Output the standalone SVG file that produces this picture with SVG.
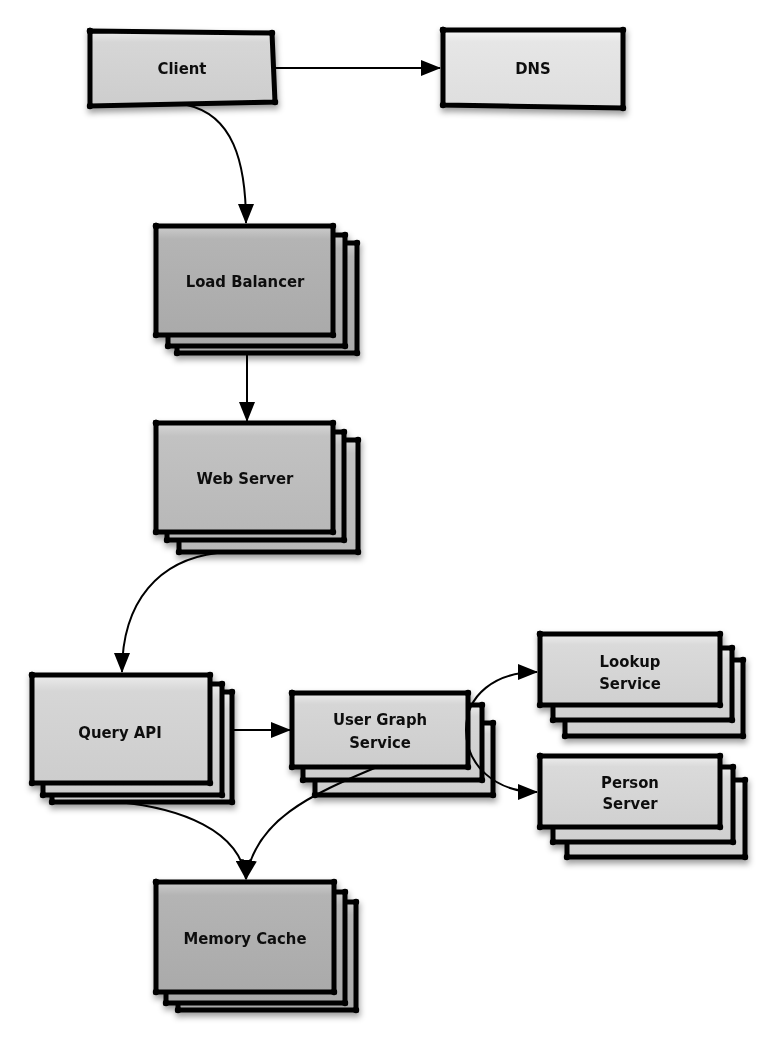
<svg xmlns="http://www.w3.org/2000/svg" width="774" height="1042" viewBox="0 0 774 1042">
<style>
.bx{stroke:#000;stroke-width:5;stroke-linejoin:miter;marker-start:url(#dot);marker-mid:url(#dot);marker-end:url(#dot)}
.lbl{font-family:"Liberation Sans Narrow","DejaVu Sans Condensed","Liberation Sans",sans-serif;font-weight:bold;font-size:16.5px;fill:#111;text-anchor:middle}
.cn{fill:none;stroke:#000;stroke-width:2}
.ar{marker-end:url(#ah)}
.node{filter:url(#sh)}
</style>
<defs>
<marker id="dot" markerWidth="8" markerHeight="8" refX="4" refY="4" markerUnits="userSpaceOnUse"><circle cx="4" cy="4" r="3.2" fill="#000"/></marker>
<marker id="ah" markerWidth="20" markerHeight="16" refX="19" refY="8" orient="auto" markerUnits="userSpaceOnUse"><path d="M0,0 L20,8 L0,16 z" fill="#000"/></marker>
<filter id="sh" x="-10%" y="-10%" width="130%" height="140%"><feDropShadow dx="1" dy="4" stdDeviation="3" flood-color="#000" flood-opacity="0.4"/></filter>
<linearGradient id="g1" x1="0" y1="0" x2="0" y2="1"><stop offset="0" stop-color="#ececec"/><stop offset="0.15" stop-color="#d6d6d6"/><stop offset="1" stop-color="#cdcdcd"/></linearGradient>
<linearGradient id="g2" x1="0" y1="0" x2="0" y2="1"><stop offset="0" stop-color="#f6f6f6"/><stop offset="0.15" stop-color="#e6e6e6"/><stop offset="1" stop-color="#dedede"/></linearGradient>
<linearGradient id="g3" x1="0" y1="0" x2="0" y2="1"><stop offset="0" stop-color="#cdcdcd"/><stop offset="0.12" stop-color="#b4b4b4"/><stop offset="1" stop-color="#aaaaaa"/></linearGradient>
<linearGradient id="g4" x1="0" y1="0" x2="0" y2="1"><stop offset="0" stop-color="#d8d8d8"/><stop offset="0.12" stop-color="#c2c2c2"/><stop offset="1" stop-color="#b8b8b8"/></linearGradient>
<linearGradient id="g5" x1="0" y1="0" x2="0" y2="1"><stop offset="0" stop-color="#eeeeee"/><stop offset="0.15" stop-color="#dadada"/><stop offset="1" stop-color="#d0d0d0"/></linearGradient>
</defs>
<rect width="774" height="1042" fill="#fff"/>

<g id="client" class="node">
<polygon class="bx" fill="url(#g1)" points="90,31 272,33 275,102 90,106"/>
<text class="lbl" x="182" y="74">Client</text>
</g>

<g id="dns" class="node">
<polygon class="bx" fill="url(#g2)" points="443,30 623,30 623,108 443,105"/>
<text class="lbl" x="533" y="74">DNS</text>
</g>

<g id="load-balancer" class="node">
<polygon class="bx" fill="url(#g3)" points="177,243 357,243 357,353 177,353"/>
<polygon class="bx" fill="url(#g3)" points="168,235 345,235 345,346 168,346"/>
<polygon class="bx" fill="url(#g3)" points="156,226 333,226 333,335 156,335"/>
<text class="lbl" x="245" y="287">Load Balancer</text>
</g>

<g id="web-server" class="node">
<polygon class="bx" fill="url(#g4)" points="179,440 358,440 358,552 179,552"/>
<polygon class="bx" fill="url(#g4)" points="167,432 344,432 344,540 167,540"/>
<polygon class="bx" fill="url(#g4)" points="156,423 333,423 333,532 156,532"/>
<text class="lbl" x="245" y="484">Web Server</text>
</g>

<g id="query-api" class="node">
<polygon class="bx" fill="url(#g1)" points="52,692 232,692 232,802 52,802"/>
<polygon class="bx" fill="url(#g1)" points="43,684 222,684 222,795 43,795"/>
<polygon class="bx" fill="url(#g1)" points="32,675 210,675 210,783 32,783"/>
<text class="lbl" x="120" y="738">Query API</text>
</g>

<g id="user-graph-service" class="node">
<polygon class="bx" fill="url(#g1)" points="315,723 493,723 493,795 315,795"/>
<polygon class="bx" fill="url(#g1)" points="303,705 482,705 482,780 303,780"/>
<polygon class="bx" fill="url(#g1)" points="292,693 468,693 468,767 292,767"/>
<text class="lbl" x="380" y="725">User Graph</text>
<text class="lbl" x="380" y="748">Service</text>
</g>

<g id="lookup-service" class="node">
<polygon class="bx" fill="url(#g5)" points="565,660 743,660 743,736 565,736"/>
<polygon class="bx" fill="url(#g5)" points="553,648 732,648 732,720 553,720"/>
<polygon class="bx" fill="url(#g5)" points="540,634 720,634 720,705 540,705"/>
<text class="lbl" x="630" y="667">Lookup</text>
<text class="lbl" x="630" y="689">Service</text>
</g>

<g id="person-server" class="node">
<polygon class="bx" fill="url(#g5)" points="567,780 745,780 745,857 567,857"/>
<polygon class="bx" fill="url(#g5)" points="553,767 733,767 733,842 553,842"/>
<polygon class="bx" fill="url(#g5)" points="540,756 720,756 720,827 540,827"/>
<text class="lbl" x="630" y="788">Person</text>
<text class="lbl" x="630" y="809">Server</text>
</g>

<g id="memory-cache" class="node">
<polygon class="bx" fill="url(#g3)" points="178,902 356,902 356,1010 178,1010"/>
<polygon class="bx" fill="url(#g3)" points="166,892 345,892 345,1003 166,1003"/>
<polygon class="bx" fill="url(#g3)" points="156,882 334,882 334,992 156,992"/>
<text class="lbl" x="245" y="944">Memory Cache</text>
</g>

<g id="connectors">
<path class="cn ar" d="M275,68 L440,68"/>
<path class="cn ar" d="M187,105 C232,115 246,160 246,223"/>
<path class="cn ar" d="M247,355 L247,421"/>
<path class="cn ar" d="M217,553 C160,560 122,600 122,672"/>
<path class="cn ar" d="M233,730 L290,730"/>
<path class="cn ar" d="M466,730 C466,695 495,672 537,672"/>
<path class="cn ar" d="M466,730 C466,765 495,792 537,792"/>
<path class="cn ar" d="M118,802 C180,808 240,830 246,879"/>
<path class="cn ar" d="M377,767 C310,795 255,820 246,879"/>
</g>
</svg>
